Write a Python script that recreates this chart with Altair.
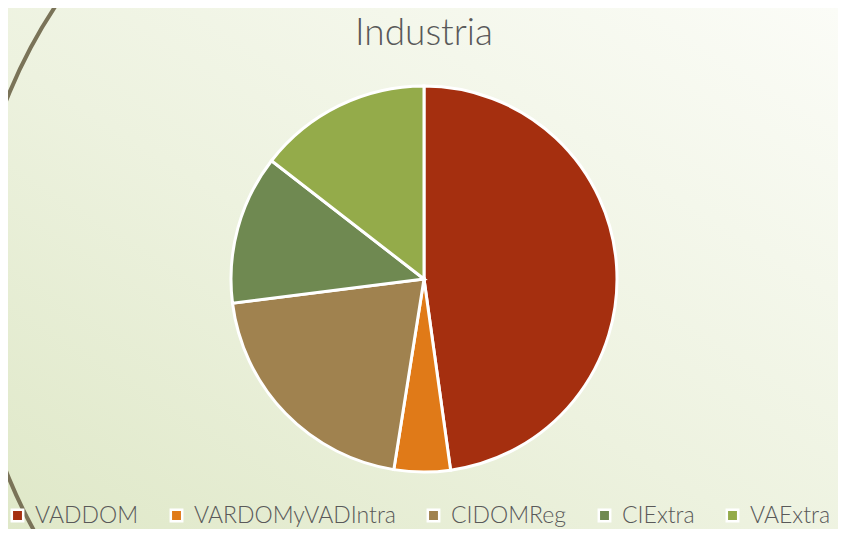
import altair as alt
import pandas as pd

categorias = ["VADDOM", "VARDOMyVADIntra", "CIDOMReg", "CIExtra", "VAExtra"]
valores = [47.8, 4.7, 20.5, 12.5, 14.5]
colores = ["#A52F0F", "#E07A18", "#A0824F", "#6F8951", "#94AB4A"]
titulo = "Industria"

W, H = 830, 521

df = pd.DataFrame({"categoria": categorias, "valor": valores, "orden": list(range(len(categorias)))})
one = pd.DataFrame({"titulo": [titulo]})

bg = alt.Chart(one).mark_rect(
    color=alt.Gradient(
        gradient="linear",
        stops=[
            alt.GradientStop(color="#DFE8C8", offset=0),
            alt.GradientStop(color="#EDF2DF", offset=0.45),
            alt.GradientStop(color="#FBFCF7", offset=1),
        ],
        x1=0, y1=1, x2=1, y2=0,
    )
).encode(x=alt.value(0), x2=alt.value(W), y=alt.value(0), y2=alt.value(H))

deco_light = alt.Chart(one).mark_arc(
    radius=516, radius2=509, theta=3.14159, theta2=4.2, color="#D3DBB8"
).encode(x=alt.value(467), y=alt.value(278))

deco = alt.Chart(one).mark_arc(
    radius=508, radius2=504, theta=3.14159, theta2=6.28318, color="#7A7358"
).encode(x=alt.value(469), y=alt.value(278))

title_mark = alt.Chart(one).mark_text(
    fontSize=37, font="Lato", fontWeight=300, color="#595959", align="center", baseline="alphabetic"
).encode(text="titulo:N", x=alt.value(416), y=alt.value(37))

pie = alt.Chart(df).mark_arc(radius=193, stroke="white", strokeWidth=3).encode(
    theta=alt.Theta("valor:Q", stack=True),
    order=alt.Order("orden:Q"),
    color=alt.Color(
        "categoria:N",
        scale=alt.Scale(domain=categorias, range=colores),
        legend=alt.Legend(
            title=None,
            orient="none",
            legendX=-2,
            legendY=496,
            padding=0,
            direction="horizontal",
            columns=5,
            gridAlign="none",
            symbolType="square",
            symbolSize=130,
            symbolStrokeColor="white",
            symbolStrokeWidth=2.5,
            symbolOpacity=1,
            labelFontSize=23,
            labelFont="Lato",
            labelFontWeight=300,
            labelColor="#595959",
            labelOffset=6,
            columnPadding=26,
            labelLimit=400,
        ),
    ),
    x=alt.value(416),
    y=alt.value(271),
)

chart = alt.layer(bg, deco_light, deco, title_mark, pie).properties(
    width=W,
    height=H,
    padding=0,
    autosize=alt.AutoSizeParams(type="none"),
).configure_view(stroke=None).configure(background="#FBFCF7")

chart.save("out.html", embed_options={"renderer": "svg", "actions": False})
